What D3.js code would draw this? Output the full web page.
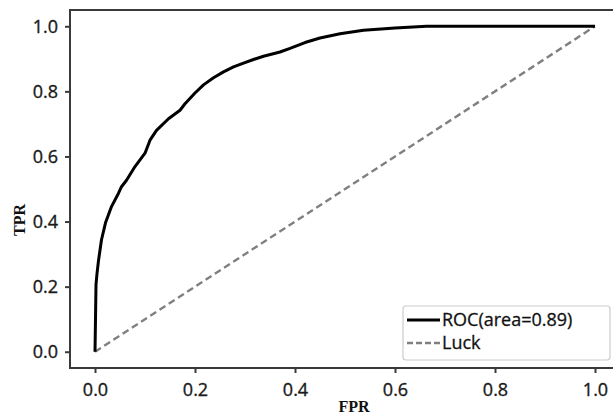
<!DOCTYPE html>
<html lang="en">
<head>
<meta charset="UTF-8">
<title>ROC curve</title>
<script src="https://d3js.org/d3.v7.min.js"></script>
<style>
  body { margin: 0; background: #fff; }
  svg { display: block; background: #fff; }
  .tick text { font-family: "Open Sans", sans-serif; font-size: 18px; fill: #1a1a1a; stroke: #1a1a1a; stroke-width: 0.35px; }
  .axis-title { font-family: "Liberation Serif", "Times New Roman", serif; font-weight: bold; font-size: 16px; fill: #111; }
  .legend text { font-family: "Open Sans", sans-serif; font-size: 18px; fill: #111; stroke: #111; stroke-width: 0.3px; }
</style>
</head>
<body>
<svg width="613" height="415"></svg>
<script>
// ROC curve points (FPR, TPR)
const fpr = [0, 0.001, 0.002, 0.004, 0.007, 0.013, 0.021, 0.033, 0.047, 0.053, 0.063, 0.08, 0.1, 0.11, 0.123, 0.147, 0.17, 0.18, 0.2, 0.217, 0.237, 0.257, 0.277, 0.297, 0.317, 0.337, 0.37, 0.39, 0.42, 0.45, 0.49, 0.537, 0.6, 0.663, 1.0];
const tpr = [0, 0.1, 0.206, 0.24, 0.28, 0.344, 0.396, 0.446, 0.487, 0.507, 0.527, 0.569, 0.61, 0.65, 0.68, 0.716, 0.742, 0.762, 0.795, 0.82, 0.842, 0.86, 0.875, 0.887, 0.898, 0.908, 0.921, 0.932, 0.95, 0.964, 0.977, 0.988, 0.995, 1.0, 1.0];
const luck = [[0, 0], [1, 1]];
const ticks = [0, 0.2, 0.4, 0.6, 0.8, 1.0];
const legendLabels = ["ROC(area=0.89)", "Luck"];

const svg = d3.select("svg");
const m = { left: 70, right: 620, top: 10, bottom: 368 };

const x = d3.scaleLinear().domain([-0.05, 1.05]).range([m.left, m.right]);
const y = d3.scaleLinear().domain([-0.05, 1.05]).range([m.bottom, m.top]);

// frame
svg.append("rect")
  .attr("x", m.left).attr("y", m.top)
  .attr("width", m.right - m.left).attr("height", m.bottom - m.top)
  .attr("fill", "none").attr("stroke", "#3a3a3a").attr("stroke-width", 2);

// axes
const xAxis = svg.append("g")
  .attr("transform", `translate(0,${m.bottom})`)
  .call(d3.axisBottom(x).tickValues(ticks).tickFormat(d3.format(".1f")).tickSize(5).tickPadding(10));
const yAxis = svg.append("g")
  .attr("transform", `translate(${m.left},0)`)
  .call(d3.axisLeft(y).tickValues(ticks).tickFormat(d3.format(".1f")).tickSize(5).tickPadding(7));
[xAxis, yAxis].forEach(a => {
  a.attr("font-size", null).attr("font-family", null);
  a.select(".domain").remove();
  a.selectAll(".tick line").attr("stroke", "#3a3a3a").attr("stroke-width", 2);
});

// luck diagonal
svg.append("path")
  .datum(luck)
  .attr("d", d3.line().x(d => x(d[0])).y(d => y(d[1])))
  .attr("fill", "none").attr("stroke", "#808080")
  .attr("stroke-width", 2.4).attr("stroke-dasharray", "7,4");

// roc curve
svg.append("path")
  .datum(d3.zip(fpr, tpr))
  .attr("d", d3.line().x(d => x(d[0])).y(d => y(d[1])))
  .attr("fill", "none").attr("stroke", "#000")
  .attr("stroke-width", 3).attr("stroke-linejoin", "round");

// axis titles
svg.append("text").attr("class", "axis-title")
  .attr("x", 354).attr("y", 412).attr("text-anchor", "middle").text("FPR");
svg.append("text").attr("class", "axis-title")
  .attr("transform", "translate(25,220) rotate(-90)")
  .attr("text-anchor", "middle").text("TPR");

// legend
const lg = svg.append("g").attr("class", "legend");
lg.append("rect")
  .attr("x", 403).attr("y", 306).attr("width", 207).attr("height", 54)
  .attr("rx", 3).attr("fill", "#fff").attr("stroke", "#ccc").attr("stroke-width", 1.2);
const rows = [
  { label: legendLabels[0], color: "#000", dash: null, w: 2.8 },
  { label: legendLabels[1], color: "#808080", dash: "6,3", w: 2.4 }
];
rows.forEach((r, i) => {
  const yy = 320 + i * 23;
  lg.append("line")
    .attr("x1", 407).attr("x2", 440).attr("y1", yy).attr("y2", yy)
    .attr("stroke", r.color).attr("stroke-width", r.w)
    .attr("stroke-dasharray", r.dash);
  lg.append("text").attr("x", 442).attr("y", yy).attr("dy", "0.35em").text(r.label);
});
</script>
</body>
</html>
